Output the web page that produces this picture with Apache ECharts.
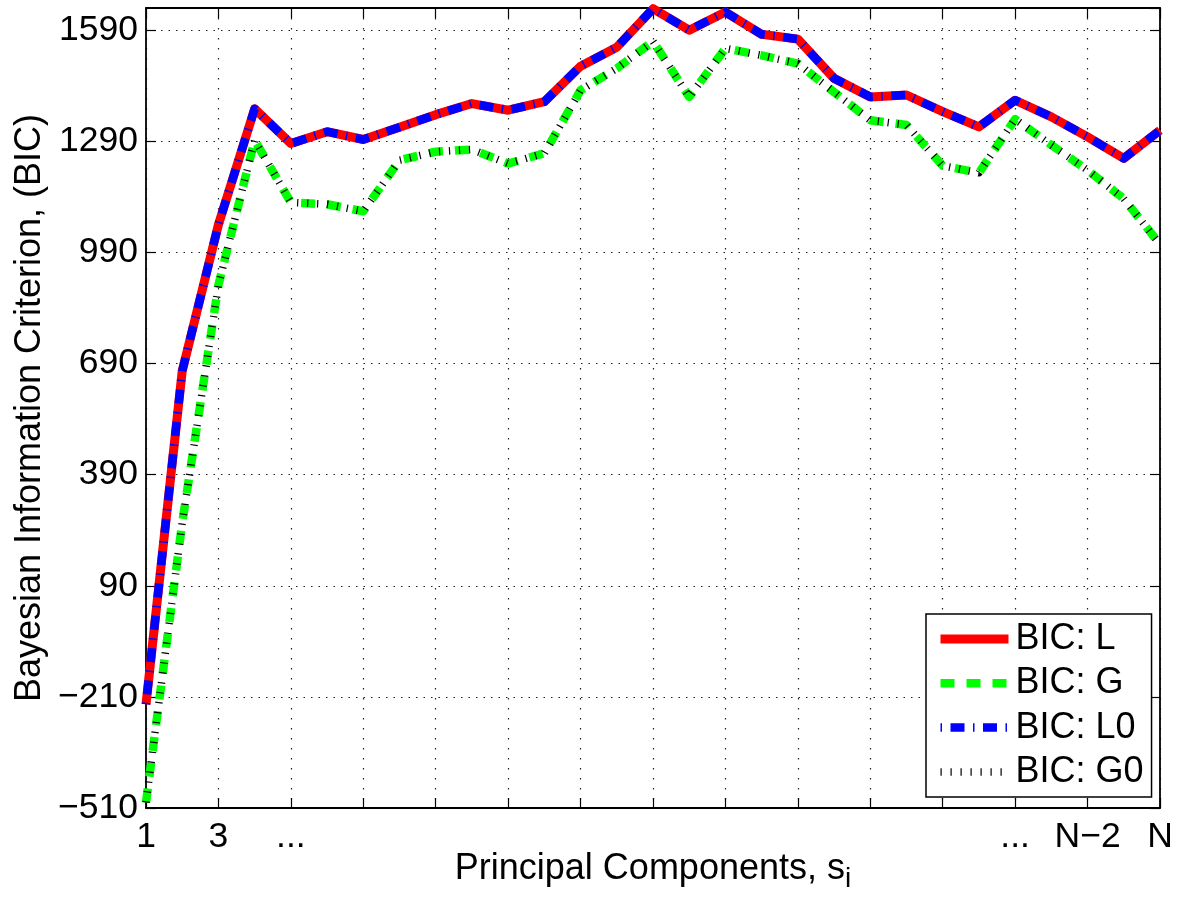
<!DOCTYPE html>
<html>
<head>
<meta charset="utf-8">
<script src="https://cdn.jsdelivr.net/npm/echarts@6/dist/echarts.min.js"></script>
<style>
html,body{margin:0;padding:0;background:#fff;}
#chart{width:1181px;height:898px;}
</style>
</head>
<body>
<div id="chart"></div>
<script>
// x categories: principal components 1..N (N = 29 points)
const categories = ['1','2','3','4','5','6','7','8','9','10','11','12','13','14','15','16','17','18','19','20','21','22','23','24','25','26','27','28','29'];
// tick labels shown at every second component (1,3,5,...,N)
const xTickLabels = ['1','3','...','','','','','','','','','','...','N\u22122','N'];
// series values
const bicL  = [-230, 670, 1065, 1378, 1284, 1316, 1295, 1328, 1362, 1392, 1374, 1397, 1493, 1544, 1648, 1590, 1639, 1579, 1566, 1460, 1410, 1415, 1370, 1329, 1401, 1356, 1302, 1244, 1320];
const bicG  = [-495, 260, 902, 1293, 1125, 1120, 1101, 1239, 1262, 1268, 1230, 1258, 1428, 1487, 1560, 1410, 1541, 1522, 1500, 1423, 1347, 1334, 1224, 1205, 1350, 1280, 1212, 1135, 1012];
const bicL0 = [-230, 670, 1065, 1378, 1284, 1316, 1295, 1328, 1362, 1392, 1374, 1397, 1493, 1544, 1648, 1590, 1639, 1579, 1566, 1460, 1410, 1415, 1370, 1329, 1401, 1356, 1302, 1244, 1320];
const bicG0 = [-495, 260, 902, 1293, 1125, 1120, 1101, 1239, 1262, 1268, 1230, 1258, 1428, 1487, 1560, 1410, 1541, 1522, 1500, 1423, 1347, 1334, 1224, 1205, 1350, 1280, 1212, 1135, 1012];
const seriesNames = ['BIC: L', 'BIC: G', 'BIC: L0', 'BIC: G0'];
const yMin = -510, yMax = 1650, yStep = 300;

const FONT = 'Liberation Sans, Arial, Helvetica, sans-serif';
const axisLineBlack = {show: true, onZero: false, lineStyle: {color: '#000', width: 1.8}};
const styles = [
  {color: '#ff0000', width: 9, type: 'solid'},
  {color: '#00ff00', width: 8.5, type: [14, 12]},
  {color: '#0000ff', width: 8.5, type: [1.5, 8.5, 14, 8.5]},
  {color: '#000000', width: 7.5, type: [1.2, 8.8]}
];
const dataSets = [bicL, bicG, bicL0, bicG0];

const option = {
  animation: false,
  backgroundColor: '#fff',
  textStyle: {fontFamily: FONT},
  grid: {left: 146, right: 21, top: 8, bottom: 90, containLabel: false, outerBoundsMode: 'none'},
  legend: {
    show: true, orient: 'vertical', left: 926, top: 614,
    padding: [7, 8, 7, 10],
    itemWidth: 68, itemHeight: 14, itemGap: 8.3,
    backgroundColor: '#fff', borderColor: '#000', borderWidth: 1.5, borderRadius: 0,
    textStyle: {fontFamily: FONT, fontSize: 36, color: '#000', lineHeight: 36, padding: [0, 0, 0, 2]},
    data: seriesNames.map((n, i) => ({
      name: n,
      itemStyle: {opacity: 0},
      lineStyle: {color: styles[i].color, width: styles[i].width, type: styles[i].type}
    }))
  },
  xAxis: [{
    type: 'category', data: categories, boundaryGap: false, position: 'bottom',
    name: 'Principal Components, s{sub|i}', nameLocation: 'middle', nameGap: 37, nameMoveOverlap: false,
    nameTextStyle: {fontFamily: FONT, fontSize: 36, color: '#000',
      rich: {sub: {fontFamily: FONT, fontSize: 28, color: '#000', verticalAlign: 'top', padding: [20, 0, 0, 0]}}},
    axisLine: axisLineBlack,
    axisTick: {show: true, inside: true, length: 10, interval: 1, lineStyle: {color: '#000', width: 1.2}},
    axisLabel: {show: true, interval: 1, margin: 11, fontFamily: FONT, fontSize: 35.5, color: '#000',
      formatter: (v, i) => xTickLabels[i / 2]},
    splitLine: {show: true, interval: 1, lineStyle: {color: '#222', width: 1.2, type: [1.5, 8.5]}}
  }, {
    type: 'category', data: categories, boundaryGap: false, position: 'top',
    axisLine: axisLineBlack,
    axisTick: {show: true, inside: true, length: 10, interval: 1, lineStyle: {color: '#000', width: 1.2}},
    axisLabel: {show: false}, splitLine: {show: false}
  }],
  yAxis: [{
    type: 'value', min: yMin, max: yMax, interval: yStep, position: 'left',
    name: 'Bayesian Information Criterion, (BIC)', nameLocation: 'middle', nameGap: 98, nameRotate: 90, nameMoveOverlap: false,
    nameTextStyle: {fontFamily: FONT, fontSize: 36, color: '#000'},
    axisLine: axisLineBlack,
    axisTick: {show: true, inside: true, length: 10, lineStyle: {color: '#000', width: 1.2}},
    axisLabel: {show: true, margin: 8, fontFamily: FONT, fontSize: 35.5, color: '#000', showMaxLabel: false,
      formatter: v => (v < 0 ? '\u2212' + Math.abs(v) : String(v))},
    splitLine: {show: true, lineStyle: {color: '#222', width: 1.2, type: [1.5, 6]}}
  }, {
    type: 'value', min: yMin, max: yMax, interval: yStep, position: 'right',
    axisLine: axisLineBlack,
    axisTick: {show: true, inside: true, length: 10, lineStyle: {color: '#000', width: 1.2}},
    axisLabel: {show: false}, splitLine: {show: false}
  }],
  series: seriesNames.map((n, i) => ({
    name: n, type: 'line', data: dataSets[i], xAxisIndex: 0, yAxisIndex: 0,
    symbol: 'none', showSymbol: false, smooth: false, clip: true,
    lineStyle: {color: styles[i].color, width: styles[i].width, type: styles[i].type, join: 'round'},
    itemStyle: {color: styles[i].color},
    emphasis: {disabled: true}, z: 2 + i
  }))
};
const chart = echarts.init(document.getElementById('chart'), null, {renderer: 'canvas'});
chart.setOption(option);
</script>
</body>
</html>
